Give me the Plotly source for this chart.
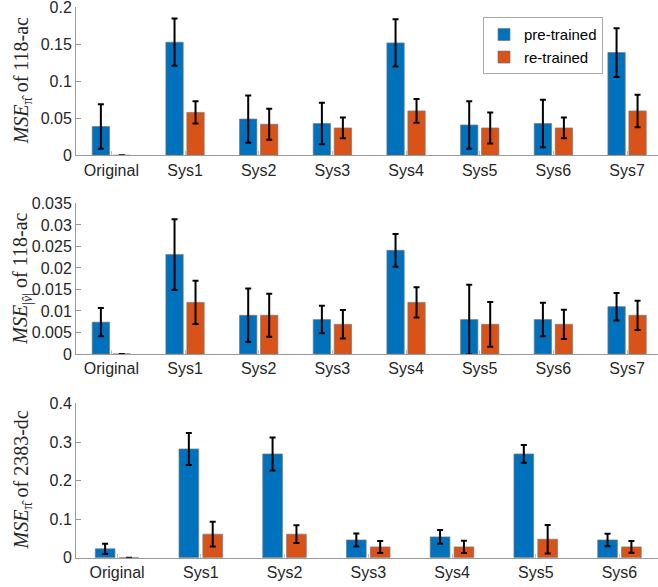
import plotly.graph_objects as go

# ---------------- data ----------------
cats_118 = ["Original", "Sys1", "Sys2", "Sys3", "Sys4", "Sys5", "Sys6", "Sys7"]
cats_2383 = ["Original", "Sys1", "Sys2", "Sys3", "Sys4", "Sys5", "Sys6"]

ang118_pre = [0.039, 0.153, 0.049, 0.043, 0.152, 0.041, 0.043, 0.139]
ang118_pre_err = [0.030, 0.032, 0.032, 0.028, 0.032, 0.032, 0.032, 0.033]
ang118_re = [0.0, 0.058, 0.042, 0.037, 0.060, 0.037, 0.037, 0.060]
ang118_re_err = [0.0, 0.015, 0.021, 0.014, 0.016, 0.021, 0.014, 0.022]

mag118_pre = [0.0074, 0.0231, 0.0090, 0.0080, 0.0241, 0.0080, 0.0080, 0.0110]
mag118_pre_err = [0.0033, 0.0082, 0.0062, 0.0032, 0.0038, 0.0081, 0.0039, 0.0032]
mag118_re = [0.0, 0.0120, 0.0090, 0.0069, 0.0120, 0.0069, 0.0069, 0.0090]
mag118_re_err = [0.0, 0.0050, 0.0050, 0.0033, 0.0035, 0.0052, 0.0034, 0.0034]

ang2383_pre = [0.023, 0.282, 0.269, 0.046, 0.054, 0.269, 0.046]
ang2383_pre_err = [0.0135, 0.0415, 0.043, 0.017, 0.018, 0.023, 0.016]
ang2383_re = [0.0, 0.061, 0.061, 0.028, 0.028, 0.048, 0.028]
ang2383_re_err = [0.0, 0.032, 0.023, 0.0155, 0.016, 0.037, 0.015]

yt1_vals = [0, 0.05, 0.1, 0.15, 0.2]
yt1_text = ["0", "0.05", "0.1", "0.15", "0.2"]
yt2_vals = [0, 0.005, 0.01, 0.015, 0.02, 0.025, 0.03, 0.035]
yt2_text = ["0", "0.005", "0.01", "0.015", "0.02", "0.025", "0.03", "0.035"]
yt3_vals = [0, 0.1, 0.2, 0.3, 0.4]
yt3_text = ["0", "0.1", "0.2", "0.3", "0.4"]

series_names = ["pre-trained", "re-trained"]
titles = [
    "<i>MSE</i><sub>π̂</sub> of 118-ac",
    "<i>MSE</i><sub>|<i>v̂</i>|</sub> of 118-ac",
    "<i>MSE</i><sub>π̂</sub> of 2383-dc",
]

# ---------------- style ----------------
BLUE = "#0072BD"
ORANGE = "#D95319"
TXT = "#262626"
AX = "#9a9a9a"
W, H = 658, 587
L = 76

fig = go.Figure()

panels = [
    (cats_118, ang118_pre, ang118_pre_err, ang118_re, ang118_re_err, "x", "y"),
    (cats_118, mag118_pre, mag118_pre_err, mag118_re, mag118_re_err, "x2", "y2"),
    (cats_2383, ang2383_pre, ang2383_pre_err, ang2383_re, ang2383_re_err, "x3", "y3"),
]

for i, (cats, pre, pre_e, re_, re_e, xa, ya) in enumerate(panels):
    for name, vals, errs, col in [(series_names[0], pre, pre_e, BLUE),
                                  (series_names[1], re_, re_e, ORANGE)]:
        fig.add_trace(go.Bar(
            x=cats, y=vals, name=name, xaxis=xa, yaxis=ya,
            marker=dict(color=col, line=dict(color="rgba(120,120,120,0.7)", width=1)),
            error_y=dict(type="data", array=errs, visible=True,
                         color="black", thickness=2, width=3),
            showlegend=(i == 0), legendgroup=name,
        ))

def px2dom(top_px, bot_px):
    return [1 - bot_px / H, 1 - top_px / H]

doms = [px2dom(7.3, 155.3), px2dom(203.3, 354.0), px2dom(403.3, 557.7)]
xranges = [[-0.48, 7.42], [-0.48, 7.42], [-0.49, 6.46]]
yranges = [[0, 0.2002], [0, 0.03503], [0, 0.4004]]
yticks = [(yt1_vals, yt1_text), (yt2_vals, yt2_text), (yt3_vals, yt3_text)]

font_tick = dict(family="Liberation Sans, Arial, sans-serif", size=16, color=TXT)

layout = dict(
    width=W, height=H,
    margin=dict(l=L, r=0, t=0, b=0),
    paper_bgcolor="white", plot_bgcolor="white",
    barmode="group", bargap=0.43, bargroupgap=0.175,
    showlegend=True,
    legend=dict(x=(483 - L) / (W - L), y=1 - 17.3 / H, xanchor="left", yanchor="top",
                bgcolor="white", bordercolor="#aaaaaa", borderwidth=1,
                font=dict(family="Liberation Sans, Arial, sans-serif", size=15, color="black"),
                tracegroupgap=0, itemwidth=30),
    annotations=[],
)

for i in range(3):
    sfx = "" if i == 0 else str(i + 1)
    layout["xaxis" + sfx] = dict(
        domain=[0, 1], anchor="y" + sfx, range=xranges[i], type="category",
        showline=True, linecolor=AX, linewidth=1,
        ticks="inside", ticklen=4, tickcolor="#c0c0c0", tickwidth=1,
        tickfont=font_tick, showgrid=False, zeroline=False, automargin=False,
        fixedrange=True, ticklabeloverflow="allow",
    )
    layout["yaxis" + sfx] = dict(
        domain=doms[i], anchor="x" + sfx, range=yranges[i],
        tickvals=yticks[i][0], ticktext=yticks[i][1],
        showline=True, linecolor=AX, linewidth=1,
        ticks="inside", ticklen=5, tickcolor=AX, tickwidth=1,
        tickfont=font_tick, showgrid=False, zeroline=False, automargin=False,
        fixedrange=True, ticklabeloverflow="allow",
    )
    layout["annotations"].append(dict(
        text=titles[i], textangle=-90, xref="paper", yref="paper",
        x=0, xshift=-54, y=(doms[i][0] + doms[i][1]) / 2,
        xanchor="center", yanchor="middle", showarrow=False,
        font=dict(family="Liberation Serif, Times New Roman, serif", size=20, color=TXT),
    ))

fig.update_layout(**layout)
fig.write_html("out.html", config={"displayModeBar": False},
               post_script="document.body.style.margin='0px';document.body.style.overflow='hidden';")
